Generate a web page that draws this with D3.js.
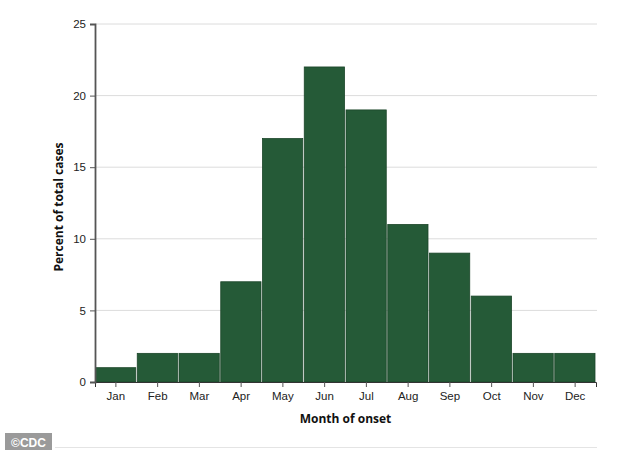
<!DOCTYPE html>
<html>
<head>
<meta charset="utf-8">
<script src="https://cdn.jsdelivr.net/npm/d3@7"></script>
<style>
  body { margin: 0; background: #fff; }
  svg { display: block; font-family: "Open Sans", Lato, sans-serif; }
  .tick text { fill: #222; font-size: 11.5px; }
  .axis-title { font-size: 12px; font-weight: bold; fill: #111; }
</style>
</head>
<body>
<svg id="chart" width="634" height="450"></svg>
<script>
// Monate und Anteil der Fälle (%)
var months = ["Jan", "Feb", "Mar", "Apr", "May", "Jun", "Jul", "Aug", "Sep", "Oct", "Nov", "Dec"];
var percents = [1, 2, 2, 7, 17, 22, 19, 11, 9, 6, 2, 2];
var yTicks = [0, 5, 10, 15, 20, 25];

var svg = d3.select("#chart");
var m = { left: 95, right: 38, top: 24, bottom: 68 };
var w = 634 - m.left - m.right;
var h = 450 - m.top - m.bottom;

var data = months.map(function(d, i) { return { month: d, value: percents[i] }; });

var x = d3.scaleBand().domain(months).range([0, w]).padding(0);
var y = d3.scaleLinear().domain([0, 25]).range([h, 0]);

var g = svg.append("g").attr("transform", "translate(" + m.left + "," + m.top + ")");

// Gitterlinien
g.append("g")
  .selectAll("line")
  .data(yTicks.slice(1))
  .join("line")
  .attr("x1", 0).attr("x2", w + 1)
  .attr("y1", function(d) { return y(d); })
  .attr("y2", function(d) { return y(d); })
  .attr("stroke", "#dcdcdc")
  .attr("stroke-width", 1);

// Balken
g.append("g")
  .selectAll("rect")
  .data(data)
  .join("rect")
  .attr("x", function(d) { return x(d.month) + 0.5; })
  .attr("y", function(d) { return y(d.value); })
  .attr("width", x.bandwidth() - 1.5)
  .attr("height", function(d) { return h - y(d.value); })
  .attr("fill", "#255a37")
  .attr("stroke", "#1b4529")
  .attr("stroke-width", 0.8);

// x-Achse
var xAxis = g.append("g")
  .attr("transform", "translate(0," + h + ")")
  .call(d3.axisBottom(x).tickSize(5).tickPadding(5));
xAxis.select(".domain").attr("stroke", "#333");
xAxis.selectAll(".tick line").attr("stroke", "#555");

// y-Achse
var yAxis = g.append("g")
  .call(d3.axisLeft(y).tickValues(yTicks).tickSize(5).tickPadding(4));
yAxis.select(".domain").attr("stroke", "#555").attr("stroke-width", 1.8);
yAxis.selectAll(".tick line").attr("stroke", "#555");

// Achsentitel
svg.append("text")
  .attr("class", "axis-title")
  .attr("x", m.left + w / 2)
  .attr("y", 423)
  .attr("text-anchor", "middle")
  .text("Month of onset");

svg.append("text")
  .attr("class", "axis-title")
  .attr("transform", "translate(63," + (m.top + h / 2 + 4) + ") rotate(-90)")
  .attr("text-anchor", "middle")
  .text("Percent of total cases");

// Linie unten
svg.append("line")
  .attr("x1", 55).attr("x2", 597)
  .attr("y1", 447.5).attr("y2", 447.5)
  .attr("stroke", "#e4e4e4");

// Quellenhinweis
svg.append("rect")
  .attr("x", 5).attr("y", 433)
  .attr("width", 47).attr("height", 17)
  .attr("fill", "#9a9a9a");
svg.append("text")
  .attr("x", 28.5).attr("y", 446.5)
  .attr("text-anchor", "middle")
  .attr("fill", "#fff")
  .style("font-family", "Liberation Sans, Arial, sans-serif")
  .style("font-weight", "bold")
  .style("font-size", "12px")
  .text("©CDC");
</script>
</body>
</html>
